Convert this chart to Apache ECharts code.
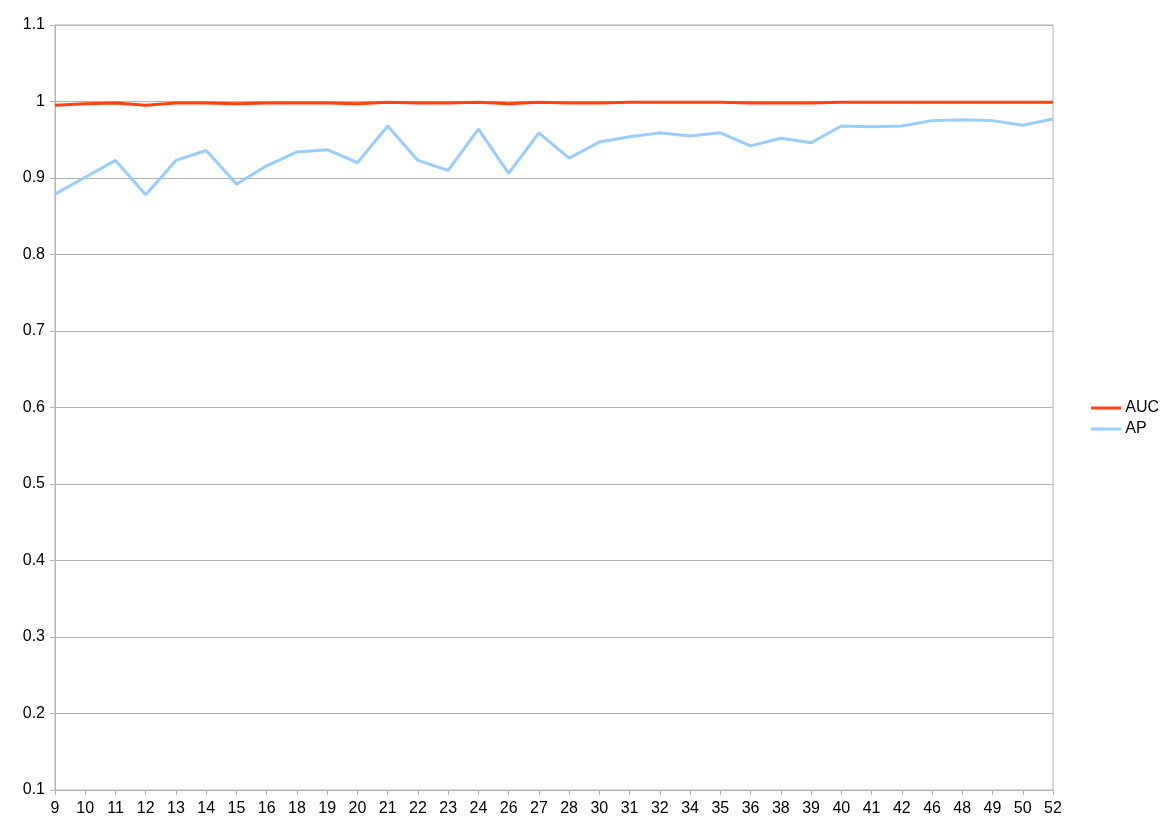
<!DOCTYPE html>
<html>
<head>
<meta charset="utf-8">
<script src="https://cdn.jsdelivr.net/npm/echarts@6/dist/echarts.min.js"></script>
<style>
html, body { margin: 0; padding: 0; background: #fff; }
#chart { width: 1174px; height: 835px; }
</style>
</head>
<body>
<div id="chart"></div>
<script>
// x categories (not evenly spaced numbers, so keep as strings)
var categories = ['9', '10', '11', '12', '13', '14', '15', '16', '18', '19', '20', '21', '22', '23', '24', '26', '27',
    '28', '30', '31', '32', '34', '35', '36', '38', '39', '40', '41', '42', '46', '48', '49', '50', '52'];

var aucValues = [0.995, 0.997, 0.998, 0.995, 0.998, 0.998, 0.997, 0.998, 0.998, 0.998, 0.997, 0.999, 0.998, 0.998,
    0.999, 0.997, 0.999, 0.998, 0.998, 0.999, 0.999, 0.999, 0.999, 0.998, 0.998, 0.998, 0.999, 0.999, 0.999,
    0.999, 0.999, 0.999, 0.999, 0.999];

var apValues = [0.879, 0.901, 0.923, 0.878, 0.923, 0.936, 0.892, 0.916, 0.934, 0.937, 0.920, 0.968, 0.923, 0.910,
    0.964, 0.906, 0.959, 0.926, 0.947, 0.954, 0.959, 0.955, 0.959, 0.942, 0.952, 0.946, 0.968, 0.967, 0.968,
    0.975, 0.976, 0.975, 0.969, 0.977];

var yTicks = { min: 0.1, max: 1.1, step: 0.1 };

var chart = echarts.init(document.getElementById('chart'));
var font = 'Liberation Sans, Arial, sans-serif';

var option = {
    animation: false,
    backgroundColor: '#fff',
    grid: {
        left: 55,
        right: 121,
        top: 25,
        bottom: 45,
        show: true,
        borderColor: '#b3b3b3',
        borderWidth: 1
    },
    legend: {
        orient: 'vertical',
        right: 10,
        top: 395,
        itemWidth: 30,
        itemHeight: 3,
        itemGap: 5,
        icon: 'rect',
        textStyle: { fontFamily: font, fontSize: 16, color: '#000', padding: [0, 0, 0, -1] },
        data: ['AUC', 'AP']
    },
    xAxis: {
        type: 'category',
        data: categories,
        boundaryGap: false,
        axisLine: { lineStyle: { color: '#b3b3b3', width: 1 } },
        axisTick: { show: true, inside: false, length: 5, alignWithLabel: true, lineStyle: { color: '#b3b3b3' } },
        axisLabel: { interval: 0, fontFamily: font, fontSize: 16, color: '#000', margin: 11 },
        splitLine: { show: false }
    },
    yAxis: {
        type: 'value',
        min: yTicks.min,
        max: yTicks.max,
        interval: yTicks.step,
        axisLine: { show: true, lineStyle: { color: '#b3b3b3', width: 1 } },
        axisTick: { show: true, length: 5, lineStyle: { color: '#b3b3b3' } },
        axisLabel: {
            fontFamily: font, fontSize: 16, color: '#000', margin: 10,
            formatter: function (v) { return String(+v.toFixed(1)); }
        },
        splitLine: { show: true, lineStyle: { color: '#b3b3b3', width: 1 } }
    },
    series: [
        {
            name: 'AUC',
            type: 'line',
            data: aucValues,
            showSymbol: false,
            symbol: 'none',
            z: 3,
            lineStyle: { color: '#ff420e', width: 3 },
            itemStyle: { color: '#ff420e' }
        },
        {
            name: 'AP',
            type: 'line',
            data: apValues,
            showSymbol: false,
            symbol: 'none',
            z: 2,
            lineStyle: { color: '#99ccff', width: 3 },
            itemStyle: { color: '#99ccff' }
        }
    ]
};

chart.setOption(option);
</script>
</body>
</html>
